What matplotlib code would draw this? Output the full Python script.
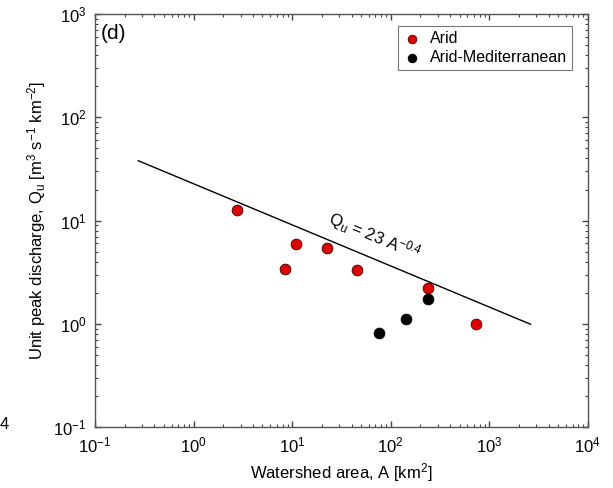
import matplotlib
matplotlib.use("Agg")
import matplotlib.pyplot as plt
from matplotlib.ticker import LogLocator, NullFormatter

plt.rcParams['font.family'] = ['Liberation Sans', 'DejaVu Sans']
plt.rcParams['mathtext.fontset'] = 'custom'
plt.rcParams['mathtext.rm'] = 'Liberation Sans'
plt.rcParams['mathtext.it'] = 'Liberation Sans:italic'
plt.rcParams['mathtext.bf'] = 'Liberation Sans:bold'
plt.rcParams['axes.unicode_minus'] = False

# watershed area [km2] and unit peak discharge [m3 s-1 km-2]
arid_area = [2.75, 10.9, 8.45, 22.4, 45.7, 238, 726]
arid_qu = [12.6, 5.9, 3.38, 5.37, 3.30, 2.23, 0.99]
med_area = [75.9, 143.5, 238]
med_qu = [0.817, 1.11, 1.74]

# envelope line Qu = 23 A^-0.4 (end points)
line_area = [0.275, 2620]
line_qu = [38.0, 0.99]

fig = plt.figure(figsize=(6.13, 4.88), dpi=100)
ax = fig.add_axes([0.155, 0.125, 0.804, 0.846])

ax.plot(line_area, line_qu, color='black', lw=1.0, zorder=2)
ax.scatter(arid_area, arid_qu, s=60, color='#e00000', edgecolors='#400000',
           linewidths=0.6, zorder=3, label='Arid')
ax.scatter(med_area, med_qu, s=60, color='black', edgecolors='black',
           linewidths=0.6, zorder=3, label='Arid-Mediterranean')

ax.set_xscale('log')
ax.set_yscale('log')
ax.set_xlim(1e-1, 1e4)
ax.set_ylim(1e-1, 1e3)

ax.xaxis.set_major_locator(LogLocator(base=10, numticks=10))
ax.yaxis.set_major_locator(LogLocator(base=10, numticks=10))
ax.xaxis.set_minor_locator(LogLocator(base=10, subs=range(2, 10), numticks=20))
ax.yaxis.set_minor_locator(LogLocator(base=10, subs=range(2, 10), numticks=20))
ax.xaxis.set_minor_formatter(NullFormatter())
ax.yaxis.set_minor_formatter(NullFormatter())

ax.tick_params(which='both', direction='in', top=True, right=True,
               color='#444444', labelsize=12)
ax.tick_params(which='major', length=4, width=1.0, pad=6)
ax.tick_params(which='minor', length=2.5, width=0.8)
for sp in ax.spines.values():
    sp.set_color('#555555')
    sp.set_linewidth(1.0)

ax.set_xlabel('Watershed area, A [km$^2$]', fontsize=12)
ax.set_ylabel(r'Unit peak discharge, Q$_\mathrm{u}$ [m$^3$ s$^{-1}$ km$^{-2}$]', fontsize=12)

ax.text(0.012, 0.975, '(d)', transform=ax.transAxes, fontsize=15,
        ha='left', va='top')
ax.text(62, 5.6, r'Q$_\mathrm{u}$ = 23 A$^{-0.4}$', fontsize=12, rotation=-22.5,
        rotation_mode='anchor', ha='center', va='bottom')

leg = ax.legend(loc='upper right', fontsize=11.5, frameon=True, fancybox=False,
                handletextpad=0.5, borderpad=0.3, labelspacing=0.25,
                bbox_to_anchor=(0.983, 0.99), handlelength=1.2,
                markerscale=0.8)
leg.get_frame().set_edgecolor('#555555')
leg.get_frame().set_linewidth(0.8)

fig.text(0.0, 0.115, '4', fontsize=12, ha='left', va='bottom')

fig.savefig('out.png', dpi=100)
